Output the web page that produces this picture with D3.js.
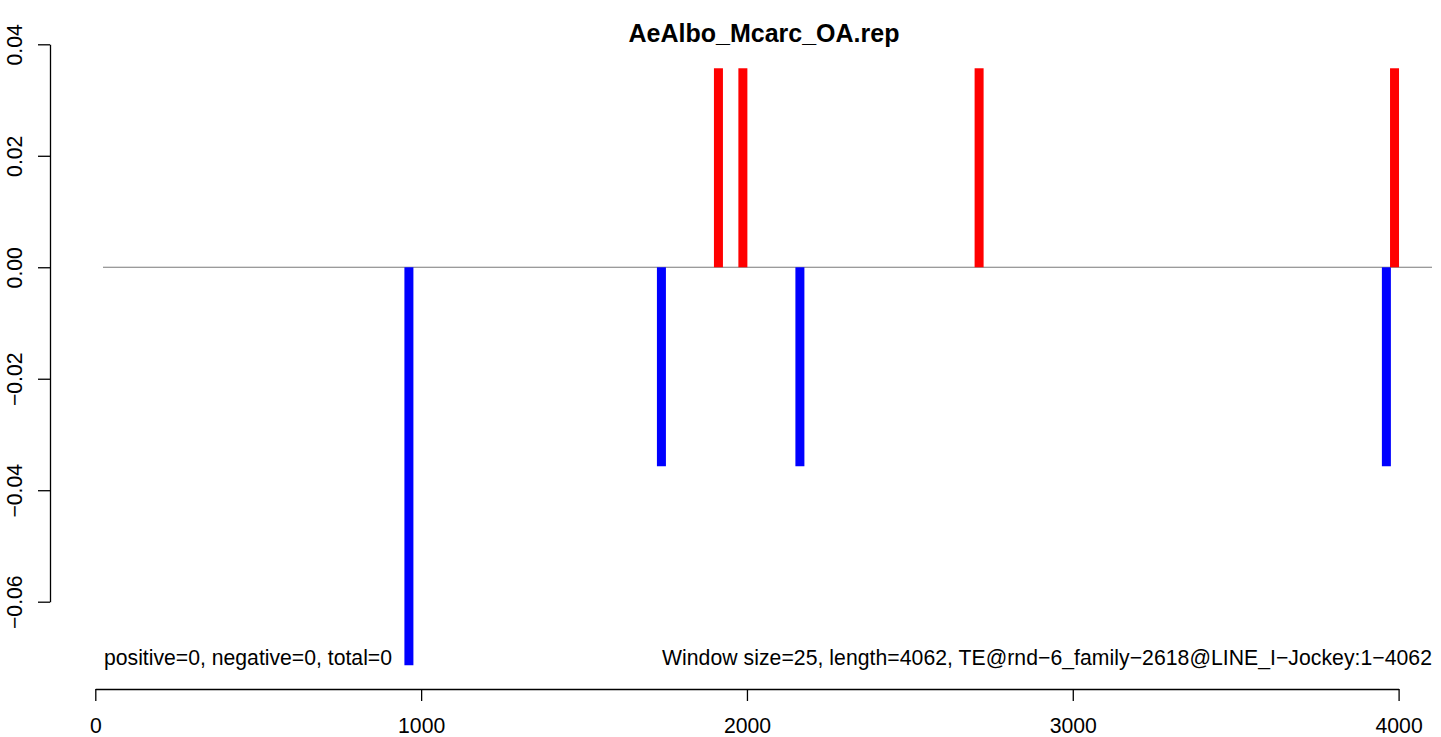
<!DOCTYPE html>
<html>
<head>
<meta charset="utf-8">
<script src="https://cdn.jsdelivr.net/npm/d3@7"></script>
<style>
  html, body { margin: 0; padding: 0; background: #fff; }
  svg { display: block; font-family: "Liberation Sans", Arial, Helvetica, sans-serif; }
</style>
</head>
<body>
<svg id="chart" width="1441" height="737"></svg>
<script>
// ---- data ----
const title = "AeAlbo_Mcarc_OA.rep";
const windowMid = [962.5, 1737.5, 1912.5, 1987.5, 2162.5, 2712.5, 3962.5, 3987.5];
const windowValue = [-0.0714, -0.0357, 0.0357, 0.0357, -0.0357, 0.0357, -0.0357, 0.0357];
const xTicks = [0, 1000, 2000, 3000, 4000];
const yTicks = [-0.06, -0.04, -0.02, 0.00, 0.02, 0.04];
const leftNote = "positive=0, negative=0, total=0";
const rightNote = "Window size=25, length=4062, TE@rnd\u22126_family\u22122618@LINE_I\u2212Jockey:1\u22124062";

// ---- layout ----
const svg = d3.select("#chart");
const x = d3.scaleLinear().domain([0, 4000]).range([95.3, 1398.6]);
const y = d3.scaleLinear().domain([-0.06, 0.04]).range([601.7, 44.3]);
const plotLeft = 103, plotRight = 1432;
const yAxisX = 50, xAxisY = 689;
const barW = 9;
const fs = 21.2;

// zero line
svg.append("line")
  .attr("x1", plotLeft).attr("x2", plotRight)
  .attr("y1", y(0)).attr("y2", y(0))
  .attr("stroke", "#7a7a7a").attr("stroke-width", 1.2);

// bars
svg.selectAll("rect.bar")
  .data(windowMid.map((m, i) => ({ m, v: windowValue[i] })))
  .join("rect")
  .attr("class", "bar")
  .attr("x", d => x(d.m) - barW / 2)
  .attr("width", barW)
  .attr("y", d => Math.min(y(0), y(d.v)))
  .attr("height", d => Math.abs(y(d.v) - y(0)))
  .attr("fill", d => d.v > 0 ? "#ff0000" : "#0000ff");

// y axis
const fmtY = v => (v < 0 ? "\u2212" : "") + Math.abs(v).toFixed(2);
const yAxis = d3.axisLeft(y).tickValues(yTicks).tickSize(12).tickSizeOuter(0).tickFormat(fmtY);
const gy = svg.append("g").attr("transform", `translate(${yAxisX},0)`).call(yAxis);
gy.select(".domain").attr("stroke", "#000").attr("stroke-width", 1.3);
gy.selectAll(".tick line").attr("stroke", "#000").attr("stroke-width", 1.3);
gy.selectAll(".tick text")
  .attr("font-size", fs)
  .attr("fill", "#000")
  .attr("text-anchor", "middle")
  .attr("x", 0).attr("y", 0).attr("dy", null)
  .attr("transform", `translate(${22 - yAxisX},0) rotate(-90)`);

// x axis
const xAxis = d3.axisBottom(x).tickValues(xTicks).tickSize(12).tickSizeOuter(0).tickFormat(d3.format("d"));
const gx = svg.append("g").attr("transform", `translate(0,${xAxisY})`).call(xAxis);
gx.select(".domain").attr("stroke", "#000").attr("stroke-width", 1.3);
gx.selectAll(".tick line").attr("stroke", "#000").attr("stroke-width", 1.3);
gx.selectAll(".tick text")
  .attr("font-size", fs).attr("fill", "#000")
  .attr("dy", null).attr("y", 733 - xAxisY);

// title
svg.append("text")
  .attr("x", 764).attr("y", 42)
  .attr("text-anchor", "middle")
  .attr("font-weight", "bold")
  .attr("font-size", 25)
  .text(title);

// notes
svg.append("text")
  .attr("x", plotLeft + 1).attr("y", 665)
  .attr("font-size", fs)
  .text(leftNote);
svg.append("text")
  .attr("x", plotRight - 770).attr("y", 665)
  .attr("textLength", 770)
  .attr("lengthAdjust", "spacing")
  .attr("font-size", fs)
  .text(rightNote);
</script>
</body>
</html>
